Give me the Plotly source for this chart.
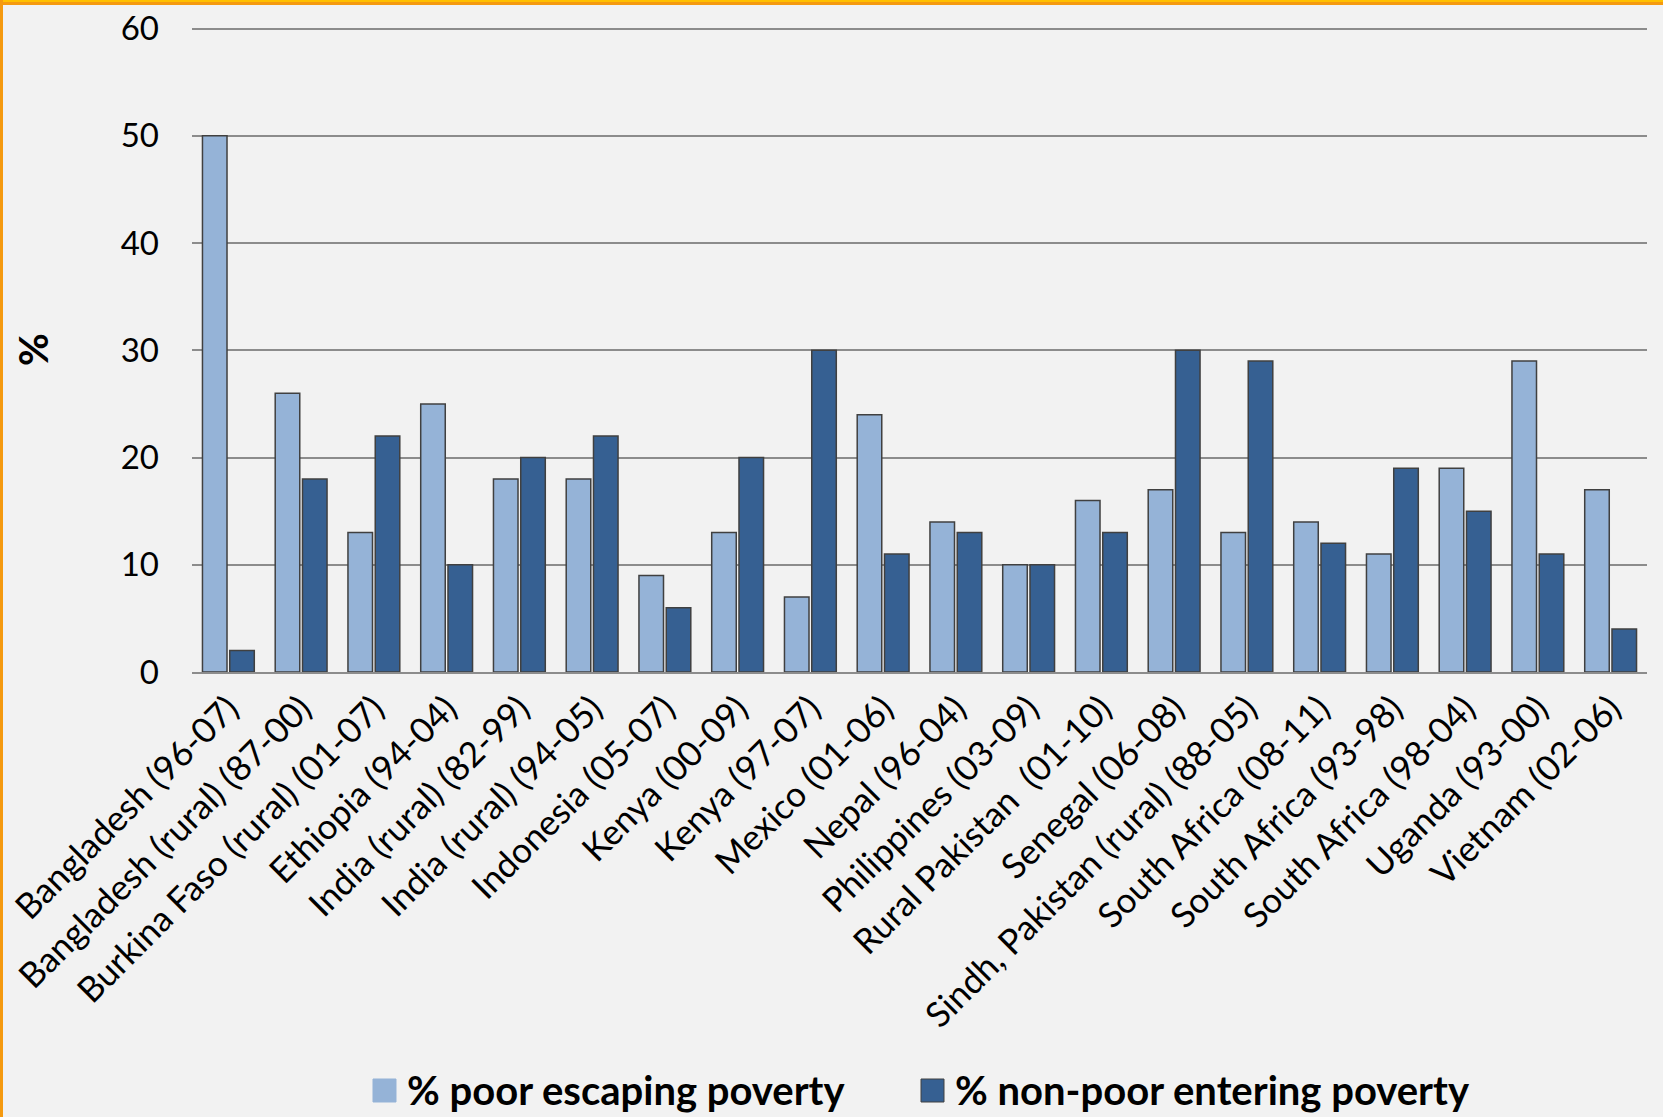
import plotly.graph_objects as go

categories = [
    "Bangladesh (96-07)", "Bangladesh (rural) (87-00)", "Burkina Faso (rural) (01-07)",
    "Ethiopia (94-04)", "India (rural) (82-99)", "India (rural) (94-05)",
    "Indonesia (05-07)", "Kenya (00-09)", "Kenya (97-07)", "Mexico (01-06)",
    "Nepal (96-04)", "Philippines (03-09)", "Rural Pakistan  (01-10)", "Senegal (06-08)",
    "Sindh, Pakistan (rural) (88-05)", "South Africa (08-11)", "South Africa (93-98)",
    "South Africa (98-04)", "Uganda (93-00)", "Vietnam (02-06)",
]
poor_escaping = [50, 26, 13, 25, 18, 18, 9, 13, 7, 24, 14, 10, 16, 17, 13, 14, 11, 19, 29, 17]
nonpoor_entering = [2, 18, 22, 10, 20, 22, 6, 20, 30, 11, 13, 10, 13, 30, 29, 12, 19, 15, 11, 4]
y_ticks = [0, 10, 20, 30, 40, 50, 60]
series_names = ["% poor escaping poverty", "% non-poor entering poverty"]
series_colors = ["#95B3D7", "#366092"]

W, H = 1663, 1117
L, R, T, B = 192, 1647, 27, 672
pw, ph = R - L, B - T

def px_x(x):
    return (x - L) / pw

def px_y(y):
    return (B - y) / ph

fig = go.Figure()
for vals, name, col in zip([poor_escaping, nonpoor_entering], series_names, series_colors):
    fig.add_trace(go.Bar(
        x=categories, y=vals, name=name, showlegend=False,
        marker=dict(color=col, line=dict(color="#404040", width=1.5)),
    ))

font_family = "Lato, Open Sans, sans-serif"

# manual legend (large square swatches + bold labels)
legend_marker_x = [373, 921]
legend_cy = 1090
legend_shapes = []
legend_annots = []
for mx, name, col in zip(legend_marker_x, series_names, series_colors):
    legend_shapes.append(dict(
        type="rect", xref="paper", yref="paper",
        x0=px_x(mx), x1=px_x(mx + 23), y0=px_y(legend_cy + 12), y1=px_y(legend_cy - 11),
        fillcolor=col, line=dict(color="#404040" if col == "#366092" else col, width=1),
    ))
    legend_annots.append(dict(
        text="<b>" + name + "</b>", x=px_x(mx + 32), y=px_y(legend_cy), xref="paper", yref="paper",
        showarrow=False, xanchor="left", yanchor="middle", font=dict(size=40, color="black"),
    ))

fig.update_layout(
    width=W, height=H,
    margin=dict(l=L, r=W - R, t=T, b=H - B, pad=0),
    paper_bgcolor="#F2F2F2", plot_bgcolor="#F2F2F2",
    barmode="group", bargap=0.25, bargroupgap=0.1,
    font=dict(family=font_family, color="black"),
    showlegend=False,
    xaxis=dict(
        tickangle=-45, tickfont=dict(size=35), showgrid=False, automargin=False,
        showline=True, linecolor="#8C8C8C", linewidth=2, ticks="",
    ),
    yaxis=dict(
        range=[0, 60.15], tickvals=y_ticks, tickfont=dict(size=33), automargin=False,
        showgrid=True, gridcolor="#8C8C8C", gridwidth=1.5,
        zeroline=False, showline=False, ticks="", ticklabelstandoff=32,
    ),
    annotations=[dict(
        text="<b>%</b>", x=px_x(33), y=px_y(350), xref="paper", yref="paper",
        showarrow=False, textangle=-90, font=dict(size=40), xanchor="center", yanchor="middle",
    )] + legend_annots,
    shapes=[
        dict(type="rect", xref="paper", yref="paper", x0=px_x(0), x1=px_x(W), y0=px_y(5), y1=px_y(0),
             fillcolor="#F59A10", line=dict(width=0), layer="above"),
        dict(type="rect", xref="paper", yref="paper", x0=px_x(0), x1=px_x(W), y0=px_y(2), y1=px_y(0),
             fillcolor="#FFC000", line=dict(width=0), layer="above"),
        dict(type="rect", xref="paper", yref="paper", x0=px_x(0), x1=px_x(3), y0=px_y(H), y1=px_y(0),
             fillcolor="#F59A10", line=dict(width=0), layer="above"),
    ] + legend_shapes,
)

fig.write_html("out.html")
